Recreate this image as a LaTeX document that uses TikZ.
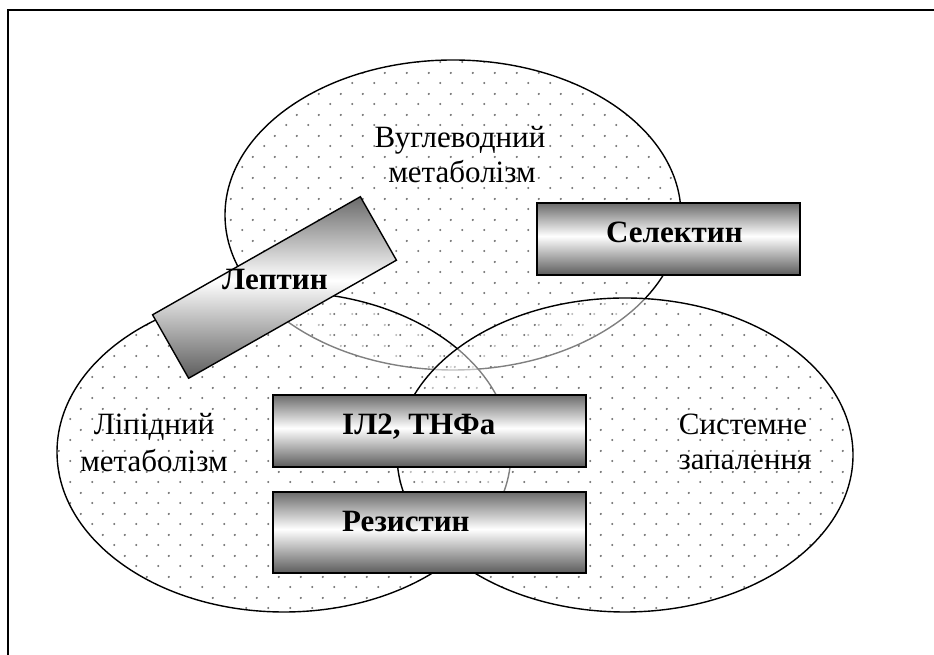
\documentclass[tikz,border=0pt]{standalone}
\usepackage{fontspec}
\setmainfont{Liberation Serif}
\usetikzlibrary{patterns}
\pgfdeclarepatternformonly{dotgrid}{\pgfqpoint{0pt}{0pt}}{\pgfqpoint{21.5pt}{21pt}}{\pgfqpoint{21.5pt}{21pt}}{%
  \pgfpathcircle{\pgfqpoint{5.4pt}{5.25pt}}{1.2pt}%
  \pgfpathcircle{\pgfqpoint{16.15pt}{15.75pt}}{1.2pt}%
  \pgfusepath{fill}}
\pgfdeclareverticalshading{boxshade}{100bp}{color(0bp)=(black!64); color(25bp)=(black!64); color(52bp)=(white); color(75bp)=(black!58); color(100bp)=(black!58)}
\begin{document}
\begin{tikzpicture}[x=1pt,y=1pt,
  zone/.style={line width=1.4pt, draw=black},
  veil/.style={fill=white, opacity=0.5},
  zonefill/.style={pattern=dotgrid, pattern color=black!55},
  gradbox/.style={draw=black, line width=1.4pt, shading=boxshade, shading angle=0, inner sep=0pt},
  lbl/.style={font=\fontsize{31}{36}\selectfont, inner sep=0pt, anchor=base},
  boldlbl/.style={font=\fontsize{31}{36}\selectfont\bfseries, inner sep=0pt, anchor=base west}
]
\useasboundingbox (0,0) rectangle (934,655);
% frame
\draw[line width=1.4pt] (8,0) -- (8,645) -- (934,645);
% top ellipse
\path[zonefill] (453,440) ellipse [x radius=228pt, y radius=155pt];
\draw[zone] (453,440) ellipse [x radius=228pt, y radius=155pt];
% left ellipse
\path[veil] (284,203) ellipse [x radius=227pt, y radius=160pt];
\path[zonefill] (284,203) ellipse [x radius=227pt, y radius=160pt];
\draw[zone] (284,203) ellipse [x radius=227pt, y radius=160pt];
% right ellipse
\path[veil] (625,200) ellipse [x radius=228pt, y radius=157pt];
\path[zonefill] (625,200) ellipse [x radius=228pt, y radius=157pt];
\draw[zone] (625,200) ellipse [x radius=228pt, y radius=157pt];
% ellipse labels
\node[lbl] (carb1) at (460,507) {Вуглеводний};
\node[lbl] (carb2) at (462,472) {метаболізм};
\node[lbl] (lip1) at (154,220) {Ліпідний};
\node[lbl] (lip2) at (154,183) {метаболізм};
\node[lbl] (inf1) at (743,220) {Системне};
\node[lbl] (inf2) at (745,185) {запалення};
% boxes
\node[gradbox, minimum width=239pt, minimum height=73pt, rotate=29.6] (leptinbox) at (274.5,367.5) {};
\node[boldlbl] (leptin) at (222,365) {Лептин};
\node[gradbox, minimum width=263pt, minimum height=72pt] (selbox) at (668.5,416) {};
\node[boldlbl] (sel) at (606,412) {Селектин};
\node[gradbox, minimum width=313pt, minimum height=72pt] (ilbox) at (429.5,224) {};
\node[boldlbl] (il) at (342,220) {ІЛ2, ТНФа};
\node[gradbox, minimum width=313pt, minimum height=81pt] (resbox) at (429.5,122.5) {};
\node[boldlbl] (res) at (342,123) {Резистин};
\end{tikzpicture}
\end{document}
